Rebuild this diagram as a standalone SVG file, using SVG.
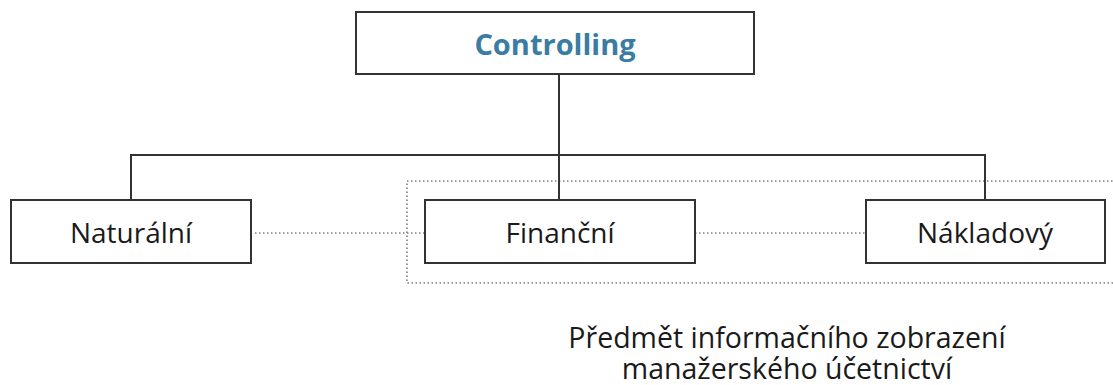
<svg xmlns="http://www.w3.org/2000/svg" width="1113" height="385" viewBox="0 0 1113 385">
  <style>
    .box { fill: #ffffff; stroke: #333333; stroke-width: 2; }
    .tree { fill: none; stroke: #333333; stroke-width: 2; }
    .dot { fill: none; stroke: #808080; stroke-width: 1.6; stroke-dasharray: 1.5 2.5; }
    .label { font-family: "Open Sans", "Noto Sans", sans-serif; font-size: 28px; fill: #1a1a1a; text-anchor: middle; }
    .caption { font-family: "Open Sans", "Noto Sans", sans-serif; font-size: 28.5px; fill: #1a1a1a; text-anchor: middle; }
    .title { font-family: "Open Sans", "Noto Sans", sans-serif; font-size: 29px; font-weight: bold; fill: #3b7ca3; text-anchor: middle; }
  </style>
  <rect width="1113" height="385" fill="#ffffff"/>

  <!-- grouping frame around the financial and cost branches -->
  <g id="scope-frame">
    <rect class="dot" x="407" y="181" width="720" height="102"/>
  </g>

  <g id="connectors">
    <path class="tree" d="M559 74 V200"/>
    <path class="tree" d="M131 200 V155 H985 V200"/>
    <path class="dot" d="M255 233 H425"/>
    <path class="dot" d="M695 233 H866"/>
  </g>

  <g id="controlling">
    <rect class="box" x="356" y="12" width="398" height="62"/>
    <text class="title" x="555" y="55">Controlling</text>
  </g>

  <g id="naturalni">
    <rect class="box" x="11" y="200" width="240" height="63"/>
    <text class="label" x="131" y="243">Naturální</text>
  </g>

  <g id="financni">
    <rect class="box" x="425" y="200" width="270" height="63"/>
    <text class="label" x="560" y="243">Finanční</text>
  </g>

  <g id="nakladovy">
    <rect class="box" x="866" y="200" width="239" height="63"/>
    <text class="label" x="985" y="243">Nákladový</text>
  </g>

  <g id="caption">
    <text class="caption" x="787" y="348">Předmět informačního zobrazení</text>
    <text class="caption" x="787" y="379">manažerského účetnictví</text>
  </g>
</svg>
